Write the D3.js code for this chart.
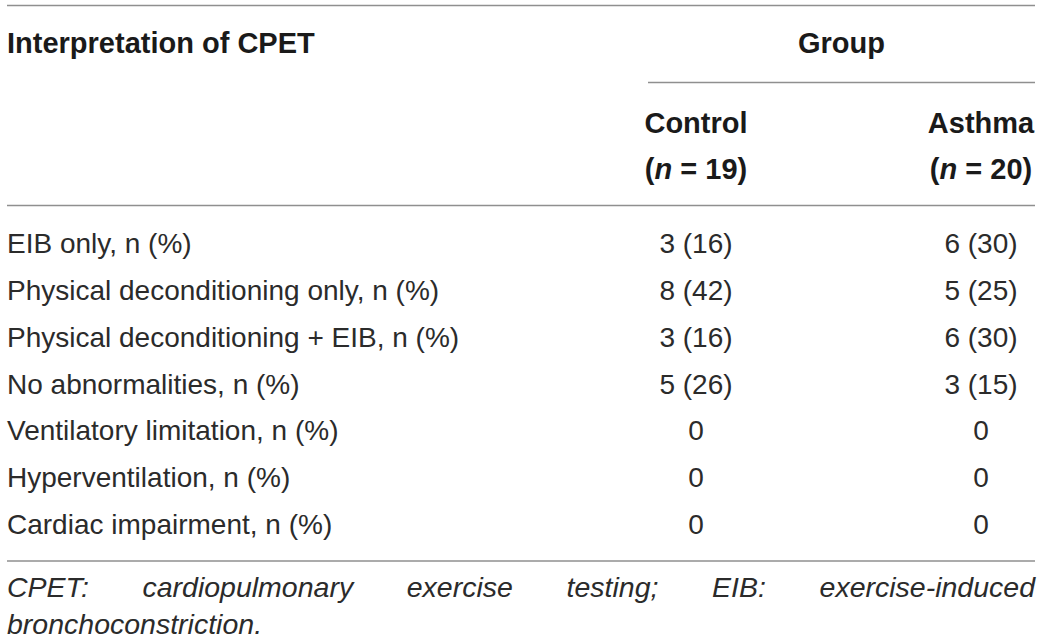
<!DOCTYPE html>
<html>
<head>
<meta charset="utf-8">
<script src="https://cdn.jsdelivr.net/npm/d3@7"></script>
<style>
  html, body { margin: 0; padding: 0; background: #fff; }
  svg text { font-family: "Liberation Sans", Arial, Helvetica, sans-serif; fill: #2b2b2b; }
  svg text.bold { fill: #1a1a1a; }
</style>
</head>
<body>
<div id="table"></div>
<script>
// table content
const stubHeader = 'Interpretation of CPET';
const spannerHeader = 'Group';
const groupNames = ['Control', 'Asthma'];
const groupNs = [19, 20];
const rowLabels = [
  'EIB only, n (%)',
  'Physical deconditioning only, n (%)',
  'Physical deconditioning + EIB, n (%)',
  'No abnormalities, n (%)',
  'Ventilatory limitation, n (%)',
  'Hyperventilation, n (%)',
  'Cardiac impairment, n (%)'
];
const controlValues = ['3 (16)', '8 (42)', '3 (16)', '5 (26)', '0', '0', '0'];
const asthmaValues = ['6 (30)', '5 (25)', '6 (30)', '3 (15)', '0', '0', '0'];
const footnoteLines = [
  'CPET: cardiopulmonary exercise testing; EIB: exercise-induced',
  'bronchoconstriction.'
];

const config = {
  width: 1041,
  height: 642,
  left: 7,
  right: 1035,
  fontSize: 28,
  boldSize: 29,
  noteSize: 28.5,
  ruleColor: '#8f8f8f'
};

const svg = d3.select('#table')
  .append('svg')
  .attr('width', config.width)
  .attr('height', config.height);

// column centres and row baselines
const colX = d3.scaleOrdinal()
  .domain(groupNames)
  .range([696, 981]);

const rowY = d3.scaleLinear()
  .domain([0, rowLabels.length - 1])
  .range([253, 534]);

function rule(y, x1, x2) {
  svg.append('line')
    .attr('x1', x1).attr('x2', x2)
    .attr('y1', y).attr('y2', y)
    .attr('stroke', config.ruleColor)
    .attr('stroke-width', 1.6);
}

// horizontal rules
rule(5.5, config.left, config.right);
rule(82.5, 648, config.right);
rule(205.5, config.left, config.right);
rule(561, config.left, config.right);

// header
svg.append('text')
  .attr('class', 'bold')
  .attr('x', config.left)
  .attr('y', 53)
  .attr('font-size', config.boldSize)
  .attr('font-weight', 'bold')
  .text(stubHeader);

svg.append('text')
  .attr('class', 'bold')
  .attr('x', (648 + config.right) / 2)
  .attr('y', 53)
  .attr('text-anchor', 'middle')
  .attr('font-size', config.boldSize)
  .attr('font-weight', 'bold')
  .text(spannerHeader);

svg.selectAll('.groupName')
  .data(groupNames)
  .enter()
  .append('text')
  .attr('class', 'groupName bold')
  .attr('x', d => colX(d))
  .attr('y', 133)
  .attr('text-anchor', 'middle')
  .attr('font-size', config.boldSize)
  .attr('font-weight', 'bold')
  .text(d => d);

let nLabels = svg.selectAll('.groupN')
  .data(groupNames)
  .enter()
  .append('text')
  .attr('class', 'groupN bold')
  .attr('x', d => colX(d))
  .attr('y', 179)
  .attr('text-anchor', 'middle')
  .attr('font-size', config.boldSize)
  .attr('font-weight', 'bold');
nLabels.append('tspan').text('(');
nLabels.append('tspan').attr('font-style', 'italic').text('n');
nLabels.append('tspan').text((d, i) => ` = ${groupNs[i]})`);

// body rows
svg.selectAll('.rowLabel')
  .data(rowLabels)
  .enter()
  .append('text')
  .attr('class', 'rowLabel')
  .attr('x', config.left)
  .attr('y', (d, i) => rowY(i))
  .attr('font-size', config.fontSize)
  .text(d => d);

[controlValues, asthmaValues].forEach((values, g) => {
  svg.selectAll(`.val${g}`)
    .data(values)
    .enter()
    .append('text')
    .attr('class', `val${g}`)
    .attr('x', colX(groupNames[g]))
    .attr('y', (d, i) => rowY(i))
    .attr('text-anchor', 'middle')
    .attr('font-size', config.fontSize)
    .text(d => d);
});

// footnote, first line justified
const footY = [597, 634];
footnoteLines.forEach((line, li) => {
  if (li == footnoteLines.length - 1) {
    svg.append('text')
      .attr('x', config.left)
      .attr('y', footY[li])
      .attr('font-size', config.noteSize)
      .attr('font-style', 'italic')
      .text(line);
    return;
  }
  let words = line.split(' ');
  let nodes = words.map(w => svg.append('text')
    .attr('y', footY[li])
    .attr('font-size', config.noteSize)
    .attr('font-style', 'italic')
    .text(w));
  let widths = nodes.map(n => n.node().getComputedTextLength());
  let gap = (config.right - config.left - d3.sum(widths)) / (words.length - 1);
  let x = config.left;
  nodes.forEach((n, i) => {
    n.attr('x', x);
    x += widths[i] + gap;
  });
});
</script>
</body>
</html>
